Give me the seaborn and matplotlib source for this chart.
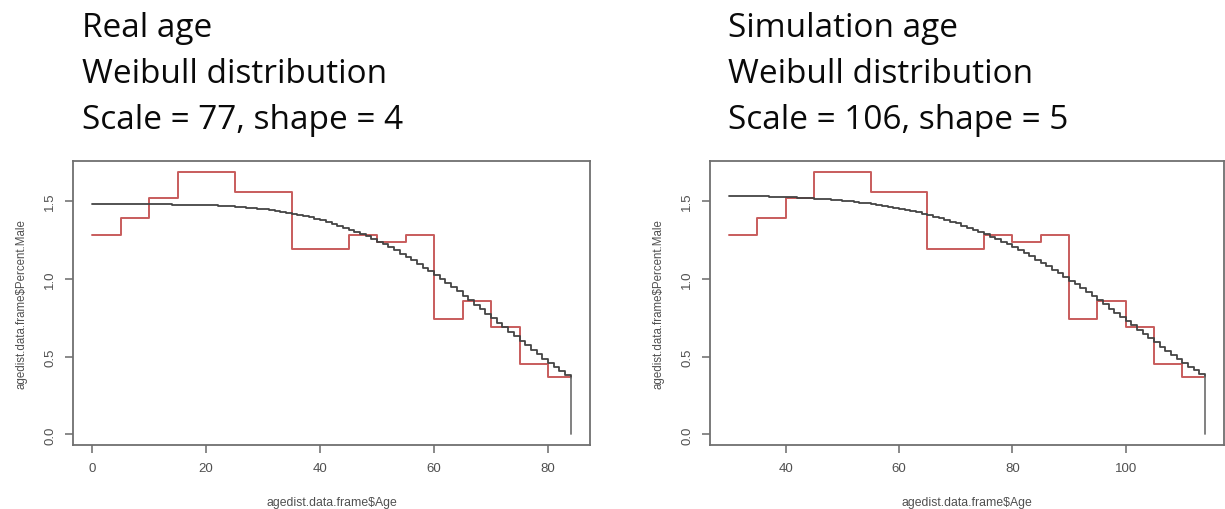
import numpy as np
import pandas as pd
import matplotlib
matplotlib.use("Agg")
import matplotlib.pyplot as plt
import seaborn as sns

# ---------------- data ----------------
# Real age panel
real_bin_edges = [0, 5, 10, 15, 25, 35, 45, 50, 55, 60, 65, 70, 75, 80, 84]
real_pct = [1.28, 1.39, 1.52, 1.69, 1.56, 1.19, 1.28, 1.24, 1.28, 0.74, 0.86, 0.69, 0.45, 0.37]
real_fit_age = list(range(0, 85))
real_fit = [1.48, 1.48, 1.48, 1.48, 1.48, 1.48, 1.48, 1.48, 1.48, 1.48,
            1.48, 1.479, 1.479, 1.479, 1.478, 1.478, 1.477, 1.476, 1.476, 1.475,
            1.473, 1.472, 1.470, 1.468, 1.466, 1.464, 1.461, 1.458, 1.454, 1.451,
            1.446, 1.442, 1.437, 1.431, 1.425, 1.418, 1.411, 1.403, 1.395, 1.386,
            1.376, 1.366, 1.355, 1.343, 1.330, 1.317, 1.303, 1.289, 1.273, 1.257,
            1.239, 1.221, 1.202, 1.183, 1.162, 1.141, 1.119, 1.097, 1.073, 1.049,
            1.024, 0.999, 0.973, 0.946, 0.919, 0.891, 0.863, 0.835, 0.806, 0.777,
            0.747, 0.718, 0.689, 0.660, 0.631, 0.602, 0.573, 0.544, 0.516, 0.488,
            0.461, 0.434, 0.408, 0.383, 0.365]

# Simulation age panel
sim_bin_edges = [30, 35, 40, 45, 55, 65, 75, 80, 85, 90, 95, 100, 105, 110, 114]
sim_pct = [1.28, 1.39, 1.52, 1.69, 1.56, 1.19, 1.28, 1.24, 1.28, 0.74, 0.86, 0.69, 0.45, 0.37]
sim_fit_age = list(range(30, 115))
sim_fit = [1.534, 1.534, 1.533, 1.533, 1.532, 1.531, 1.530, 1.529, 1.528, 1.527,
           1.525, 1.524, 1.522, 1.520, 1.518, 1.516, 1.514, 1.511, 1.508, 1.505,
           1.502, 1.498, 1.494, 1.490, 1.485, 1.480, 1.475, 1.469, 1.463, 1.457,
           1.450, 1.443, 1.435, 1.427, 1.418, 1.409, 1.400, 1.389, 1.379, 1.367,
           1.356, 1.343, 1.330, 1.316, 1.302, 1.287, 1.272, 1.256, 1.239, 1.221,
           1.203, 1.184, 1.165, 1.145, 1.124, 1.103, 1.081, 1.059, 1.036, 1.013,
           0.989, 0.964, 0.939, 0.914, 0.888, 0.862, 0.836, 0.809, 0.782, 0.755,
           0.728, 0.701, 0.674, 0.646, 0.619, 0.592, 0.565, 0.539, 0.513, 0.487,
           0.461, 0.436, 0.412, 0.388, 0.370]

title_lines = [["Real age", "Weibull distribution", "Scale = 77, shape = 4"],
               ["Simulation age", "Weibull distribution", "Scale = 106, shape = 5"]]
xlabel = "agedist.data.frame$Age"
ylabel = "agedist.data.frame$Percent.Male"
y_ticks = [0.0, 0.5, 1.0, 1.5]
y_ticklabels = ["0.0", "0.5", "1.0", "1.5"]
real_xticks = [0, 20, 40, 60, 80]
sim_xticks = [40, 60, 80, 100]

# ---------------- style ----------------
sns.set_theme(style="white")
plt.rcParams["font.family"] = ["Liberation Sans", "DejaVu Sans"]

RED = "#c85c5c"
BLACK = "#444444"
GREY = "#6a6a6a"
TXT = "#505050"

fig = plt.figure(figsize=(12.25, 5.10), dpi=100)
ax_l = fig.add_axes([73 / 1225, 64 / 510, (590 - 73) / 1225, (446 - 162) / 510])
ax_r = fig.add_axes([710 / 1225, 64 / 510, (1224 - 710) / 1225, (446 - 162) / 510])

panels = [
    (ax_l, real_bin_edges, real_pct, real_fit_age, real_fit, real_xticks, title_lines[0], 82),
    (ax_r, sim_bin_edges, sim_pct, sim_fit_age, sim_fit, sim_xticks, title_lines[1], 728),
]

for ax, edges, pct, fage, fit, xt, tlines, tx in panels:
    step_df = pd.DataFrame({"age": edges, "pct": list(pct) + [pct[-1]]})
    fit_df = pd.DataFrame({"age": list(fage), "pct": list(fit)})
    drop_df = pd.DataFrame({"age": [fage[-1], fage[-1]], "pct": [fit[-1], 0.0]})
    sns.lineplot(data=step_df, x="age", y="pct", ax=ax, color=RED, lw=1.4,
                 estimator=None, sort=False, drawstyle="steps-post")
    sns.lineplot(data=fit_df, x="age", y="pct", ax=ax, color=BLACK, lw=1.3,
                 estimator=None, sort=False, drawstyle="steps-post")
    sns.lineplot(data=drop_df, x="age", y="pct", ax=ax, color="#777777", lw=1.3,
                 estimator=None, sort=False)
    xmin, xmax = edges[0], edges[-1]
    pad = 0.04 * (xmax - xmin)
    ax.set_xlim(xmin - pad, xmax + pad)
    ymax = max(pct)
    ax.set_ylim(-0.04 * ymax, ymax * 1.04)
    ax.set_xticks(xt)
    ax.set_yticks(y_ticks)
    ax.set_yticklabels(y_ticklabels, rotation=90, va="center")
    ax.tick_params(axis="both", which="major", direction="out", length=6, width=1.1,
                   color=GREY, labelcolor=TXT, labelsize=9.5, pad=6,
                   bottom=True, left=True)
    for s in ax.spines.values():
        s.set_color("#6f6f6f")
        s.set_linewidth(1.3)
        s.set_visible(True)
    ax.set_xlabel(xlabel, fontsize=8.8, color=TXT, labelpad=16)
    ax.set_ylabel(ylabel, fontsize=8.3, color=TXT, labelpad=12)
    for i, line in enumerate(tlines):
        fig.text(tx / 1225, 1 - (37 + 46 * i) / 510, line, ha="left", va="baseline",
                 fontsize=24, family=["Open Sans", "DejaVu Sans"], color="#0a0a0a")

fig.savefig("out.png", dpi=100)
